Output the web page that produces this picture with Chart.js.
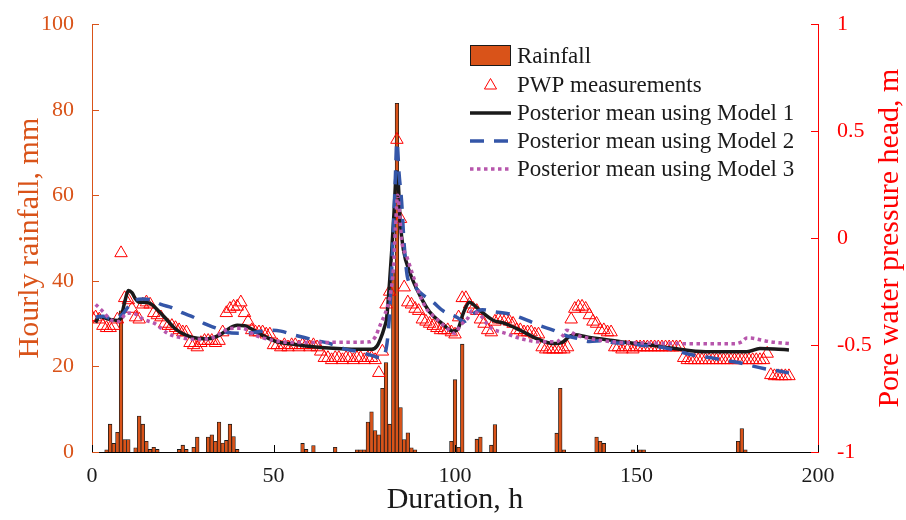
<!DOCTYPE html>
<html>
<head>
<meta charset="utf-8">
<script src="https://cdn.jsdelivr.net/npm/chart.js@4.4.1/dist/chart.umd.min.js"></script>
<style>
  html, body { margin: 0; padding: 0; background: #fff; }
  #wrap { width: 906px; height: 520px; }
</style>
</head>
<body>
<div id="wrap"><canvas id="pwpChart" width="906" height="520"></canvas></div>
<script>
// hourly rainfall, mm (only the hours that had rain)
const rainHours = [4, 5, 6, 7, 8, 9, 10, 12, 13, 14, 15, 16, 17, 18, 24, 25, 26, 28, 29,
  32, 33, 34, 35, 36, 37, 38, 39, 40, 58, 59, 61, 67,
  73, 74, 75, 76, 77, 78, 79, 80, 81, 82, 83, 84, 85, 86, 87, 88, 89,
  99, 100, 101, 102, 106, 107, 110, 111, 128, 129, 130, 139, 140, 141,
  149, 151, 152, 178, 179, 180];
const rainMm = [0.5, 6.5, 2.0, 4.6, 33, 2.9, 2.9, 1.0, 8.4, 6.5, 2.5, 0.6, 1.1, 0.6, 0.6, 1.6, 0.6, 1.1, 3.5,
  3.5, 4.0, 2.5, 7.0, 2.1, 2.7, 6.5, 3.6, 0.6, 2.0, 0.6, 1.5, 1.1,
  0.5, 0.5, 0.5, 7.0, 9.4, 5.0, 4.0, 14.9, 20.9, 6.5, 42, 81.5, 10.4, 2.9, 4.5, 1.0, 0.5,
  2.5, 16.9, 1.1, 25.2, 3.0, 3.5, 1.6, 6.4, 4.4, 14.9, 0.5, 3.5, 2.5, 2.0,
  0.5, 0.5, 0.5, 2.5, 5.5, 0.5];

// PWP measurements, one per hour starting at 0 h (m)
const pwpHead = [
  -0.37, -0.37, -0.38, -0.41, -0.42, -0.42, -0.41, -0.38, -0.07, -0.28,
  -0.29, -0.33, -0.37, -0.38, -0.31, -0.30, -0.31, -0.35, -0.36, -0.37,
  -0.40, -0.41, -0.41, -0.42, -0.43, -0.44, -0.44, -0.49, -0.50, -0.51,
  -0.49, -0.48, -0.48, -0.48, -0.49, -0.48, -0.44, -0.35, -0.33, -0.32,
  -0.32, -0.30, -0.35, -0.39, -0.43, -0.44, -0.44, -0.44, -0.45, -0.45,
  -0.50, -0.50, -0.51, -0.50, -0.51, -0.50, -0.50, -0.51, -0.50, -0.50,
  -0.51, -0.50, -0.51, -0.53, -0.56, -0.56, -0.57, -0.56, -0.56, -0.57,
  -0.56, -0.56, -0.57, -0.56, -0.56, -0.57, -0.56, -0.56, -0.57, -0.63,
  -0.53, -0.31, -0.25, null, 0.46, 0.09, -0.23, -0.30, -0.31, -0.33,
  -0.34, -0.38, -0.39, -0.40, -0.41, -0.42, -0.43, -0.43, -0.43, -0.44,
  -0.45, -0.37, -0.28, -0.28, -0.31, -0.33, -0.34, -0.38, -0.40, -0.43,
  -0.44, -0.39, -0.38, -0.38, -0.38, -0.39, -0.40, -0.43, -0.43, -0.44,
  -0.44, -0.44, -0.45, -0.45, -0.51, -0.52, -0.52, -0.52, -0.52, -0.52,
  -0.52, -0.51, -0.38, -0.33, -0.32, -0.32, -0.33, -0.36, -0.39, -0.40,
  -0.43, -0.43, -0.44, -0.44, -0.51, -0.51, -0.52, -0.51, -0.51, -0.52,
  -0.51, -0.51, -0.51, -0.51, -0.51, -0.51, -0.51, -0.51, -0.51, -0.51,
  -0.51, -0.51, -0.51, -0.56, -0.57, -0.57, -0.57, -0.57, -0.57, -0.57,
  -0.57, -0.57, -0.57, -0.57, -0.57, -0.57, -0.57, -0.57, -0.57, -0.57,
  -0.57, -0.57, -0.57, -0.57, -0.57, -0.57, -0.54, -0.64, -0.645, -0.645,
  -0.645, -0.645, -0.645];

// posterior means
const model1Hours = [1, 2, 3, 5, 7, 8, 9, 10, 11, 12, 13, 14, 16, 18, 20, 23, 26, 29, 32, 35,
  38, 40, 42, 44, 47, 51, 55, 61, 70, 77, 78.5, 79.5, 80.5, 81.2, 82, 82.6, 83.2, 83.9, 84.4, 84.9,
  85.8, 87.6, 90.4, 93, 96, 99.5, 100.8, 102.3, 104, 105, 107, 110.6, 113.3, 118, 122.5, 127, 129.8, 131.5, 133, 136.3,
  142.7, 147.3, 153.7, 160, 169, 180.4, 184, 188, 192];
const model1Head = [-0.395, -0.365, -0.37, -0.38, -0.385, -0.37, -0.30, -0.245, -0.255, -0.285, -0.30, -0.30, -0.305, -0.335, -0.37, -0.425, -0.455, -0.468, -0.47, -0.455,
  -0.42, -0.408, -0.41, -0.425, -0.455, -0.485, -0.495, -0.508, -0.518, -0.52, -0.505, -0.47, -0.42, -0.37, -0.20, -0.05, 0.12, 0.31, 0.25, 0.08,
  -0.056, -0.163, -0.27, -0.345, -0.393, -0.435, -0.425, -0.35, -0.30, -0.31, -0.34, -0.385, -0.396, -0.431, -0.47, -0.493, -0.485, -0.46, -0.452, -0.462,
  -0.477, -0.488, -0.50, -0.515, -0.531, -0.531, -0.516, -0.518, -0.523];

const model2Hours = [1, 3, 5, 7, 8.5, 10, 12, 14, 16.5, 19, 22, 25, 28, 31, 34, 37, 41, 45, 49, 52,
  55, 58.5, 62, 65, 70, 73, 77, 79.5, 81, 82, 82.8, 83.5, 84, 84.6, 85.3, 86, 87, 89, 90.4, 94,
  96.7, 100.5, 102.5, 104.5, 107.5, 111, 115, 120, 123.5, 127, 130, 134, 137, 141, 144.5, 148, 151, 156, 159.6, 163,
  166.6, 170.8, 173.8, 177.7, 181.3, 185, 188.7, 192];
const model2Head = [-0.37, -0.365, -0.375, -0.37, -0.355, -0.32, -0.29, -0.285, -0.29, -0.31, -0.325, -0.35, -0.37, -0.40, -0.42, -0.44, -0.445, -0.44, -0.43, -0.435,
  -0.45, -0.465, -0.48, -0.49, -0.52, -0.53, -0.548, -0.56, -0.52, -0.35, -0.05, 0.25, 0.45, 0.30, 0.17, -0.03, -0.19, -0.23, -0.255, -0.30,
  -0.34, -0.37, -0.39, -0.36, -0.335, -0.345, -0.355, -0.385, -0.41, -0.43, -0.453, -0.47, -0.483, -0.48, -0.49, -0.49, -0.50, -0.508, -0.52, -0.536,
  -0.55, -0.56, -0.57, -0.58, -0.595, -0.61, -0.62, -0.63];

const model3Hours = [1, 2.8, 5.5, 7.3, 8.3, 9.2, 11, 12.5, 14, 17.4, 21, 24.8, 28.5, 33, 35.5, 37.6, 41.3, 45, 49.6, 55,
  62, 70, 76.5, 78.1, 79.3, 81.2, 82.3, 83, 83.6, 84.2, 84.8, 85.3, 86.7, 88.5, 90.4, 92.2, 95, 97.7, 100, 101.4,
  103.7, 104.6, 106.9, 109.6, 114.2, 118.8, 123.4, 128, 129.5, 130.8, 133.5, 137.2, 143.6, 150, 160, 170, 177, 179, 180.4, 182,
  184, 187, 192];
const model3Head = [-0.31, -0.34, -0.385, -0.39, -0.375, -0.355, -0.35, -0.36, -0.378, -0.40, -0.447, -0.467, -0.473, -0.467, -0.445, -0.424, -0.421, -0.454, -0.477, -0.488,
  -0.488, -0.487, -0.485, -0.46, -0.41, -0.33, -0.25, -0.15, 0.05, 0.2, 0.1, -0.01, -0.085, -0.178, -0.27, -0.332, -0.378, -0.42, -0.445, -0.41,
  -0.37, -0.34, -0.36, -0.416, -0.447, -0.473, -0.485, -0.485, -0.46, -0.431, -0.454, -0.47, -0.485, -0.49, -0.493, -0.494, -0.494, -0.485, -0.467, -0.468,
  -0.475, -0.485, -0.493];

const durationTicks = [0, 50, 100, 150, 200];
const rainTicks = [0, 20, 40, 60, 80, 100];
const headTicks = [-1, -0.5, 0, 0.5, 1];

const ORANGE = 'rgb(217, 83, 25)';
const RED = '#ff0000';
const BLUE = 'rgb(52, 86, 168)';
const MAGENTA = 'rgb(183, 86, 172)';
const INK = '#1a1a1a';
const SERIF = '"Liberation Serif", "Times New Roman", serif';
const TITLE_SIZE = 30;

function pairs(xs, ys) {
  return xs.map((x, i) => ({ x: x, y: ys[i] }));
}

function setTicks(values) {
  return scale => { scale.ticks = values.map(v => ({ value: v })); };
}

// inward tick marks, right axis title and the legend box, MATLAB style
const matlabLook = {
  id: 'matlabLook',
  afterDraw(chart) {
    const ctx = chart.ctx;
    const { x, y, y2 } = chart.scales;
    const area = chart.chartArea;
    ctx.save();
    ctx.lineWidth = 1;

    ctx.strokeStyle = '#000';
    durationTicks.forEach(v => {
      const px = Math.round(x.getPixelForValue(v)) + 0.5;
      ctx.beginPath(); ctx.moveTo(px, area.bottom); ctx.lineTo(px, area.bottom - 7); ctx.stroke();
    });
    ctx.strokeStyle = ORANGE;
    rainTicks.forEach(v => {
      const py = Math.round(y.getPixelForValue(v)) + 0.5;
      ctx.beginPath(); ctx.moveTo(area.left, py); ctx.lineTo(area.left + 7, py); ctx.stroke();
    });
    ctx.strokeStyle = RED;
    headTicks.forEach(v => {
      const py = Math.round(y2.getPixelForValue(v)) + 0.5;
      ctx.beginPath(); ctx.moveTo(area.right - 7, py); ctx.lineTo(area.right, py); ctx.stroke();
    });

    // right axis title reads bottom to top like the left one
    ctx.fillStyle = RED;
    ctx.font = TITLE_SIZE + 'px ' + SERIF;
    ctx.textAlign = 'center';
    ctx.textBaseline = 'middle';
    ctx.translate(890, (area.top + area.bottom) / 2);
    ctx.rotate(-Math.PI / 2);
    ctx.fillText('Pore water pressure head, m', 0, 0);
    ctx.restore();

    // legend
    ctx.save();
    const sx = 470, sw = 41, tx = 517;
    const rows = [55.5, 84.5, 113, 141, 169];
    ctx.font = '23px ' + SERIF;
    ctx.textAlign = 'left';
    ctx.textBaseline = 'middle';
    chart.data.datasets.forEach((ds, i) => {
      const ry = rows[i];
      ctx.save();
      if (ds.type === 'bar') {
        ctx.fillStyle = ds.backgroundColor;
        ctx.fillRect(sx, ry - 10.5, sw, 21);
        ctx.strokeStyle = INK; ctx.lineWidth = 1;
        ctx.strokeRect(sx + 0.5, ry - 10, sw - 1, 20);
      } else if (ds.showLine === false) {
        const r = 7, cx = sx + sw / 2, cy = ry + 1;
        ctx.strokeStyle = ds.pointBorderColor; ctx.lineWidth = 1;
        ctx.beginPath();
        ctx.moveTo(cx, cy - r);
        ctx.lineTo(cx + r * Math.sqrt(3) / 2, cy + r / 2);
        ctx.lineTo(cx - r * Math.sqrt(3) / 2, cy + r / 2);
        ctx.closePath(); ctx.stroke();
      } else {
        ctx.strokeStyle = ds.borderColor; ctx.lineWidth = ds.borderWidth;
        ctx.setLineDash(ds.borderDash || []);
        ctx.beginPath(); ctx.moveTo(sx, ry); ctx.lineTo(sx + sw, ry); ctx.stroke();
      }
      ctx.restore();
      ctx.fillStyle = INK;
      ctx.fillText(ds.label, tx, ry + 1);
    });
    ctx.restore();
  }
};

const lineStyle = { type: 'line', yAxisID: 'y2', pointRadius: 0, fill: false, cubicInterpolationMode: 'monotone' };

new Chart(document.getElementById('pwpChart'), {
  data: {
    datasets: [
      { type: 'bar', label: 'Rainfall', data: pairs(rainHours, rainMm), yAxisID: 'y',
        backgroundColor: ORANGE, borderColor: INK, borderWidth: 0.8,
        barPercentage: 1, categoryPercentage: 1, order: 5 },
      { type: 'line', label: 'PWP measurements', data: pwpHead.map((v, h) => ({ x: h, y: v })), yAxisID: 'y2',
        showLine: false, pointStyle: 'triangle', pointRadius: 7.2,
        pointBorderColor: RED, pointBackgroundColor: 'rgba(0,0,0,0)', pointBorderWidth: 1, order: 4 },
      Object.assign({ label: 'Posterior mean using Model 1', data: pairs(model1Hours, model1Head),
        borderColor: INK, borderWidth: 3.5, order: 3 }, lineStyle),
      Object.assign({ label: 'Posterior mean using Model 2', data: pairs(model2Hours, model2Head),
        borderColor: BLUE, borderWidth: 3.5, borderDash: [14, 10], order: 2 }, lineStyle),
      Object.assign({ label: 'Posterior mean using Model 3', data: pairs(model3Hours, model3Head),
        borderColor: MAGENTA, borderWidth: 3.5, borderDash: [3.5, 3.5], order: 1 }, lineStyle)
    ]
  },
  options: {
    responsive: false,
    animation: false,
    devicePixelRatio: 1,
    layout: { padding: { top: 17, left: 0, right: 0, bottom: 0 } },
    plugins: { legend: { display: false }, tooltip: { enabled: false } },
    scales: {
      x: {
        type: 'linear', min: 0, max: 200, offset: false,
        grid: { display: false },
        border: { display: true, color: '#000', width: 1 },
        ticks: { color: INK, padding: 3, font: { family: SERIF, size: 22 }, maxRotation: 0 },
        afterBuildTicks: setTicks(durationTicks),
        title: { display: true, text: 'Duration, h', color: INK, font: { family: SERIF, size: TITLE_SIZE }, padding: { top: 0, bottom: 2 } },
        afterFit: s => { s.height = 68; }
      },
      y: {
        type: 'linear', position: 'left', min: 0, max: 100,
        grid: { display: false },
        border: { display: true, color: ORANGE, width: 1 },
        ticks: { color: ORANGE, padding: 10, font: { family: SERIF, size: 22 } },
        afterBuildTicks: setTicks(rainTicks),
        title: { display: true, text: 'Hourly rainfall, mm', color: ORANGE, font: { family: SERIF, size: TITLE_SIZE }, padding: { top: 12, bottom: 0 } },
        afterFit: s => { s.width = 92; }
      },
      y2: {
        type: 'linear', position: 'right', min: -1, max: 1,
        grid: { display: false },
        border: { display: true, color: RED, width: 1 },
        ticks: { color: RED, padding: 11, font: { family: SERIF, size: 22 }, callback: v => String(v) },
        afterBuildTicks: setTicks(headTicks),
        afterFit: s => { s.width = 88; }
      }
    }
  },
  plugins: [matlabLook]
});
</script>
</body>
</html>
